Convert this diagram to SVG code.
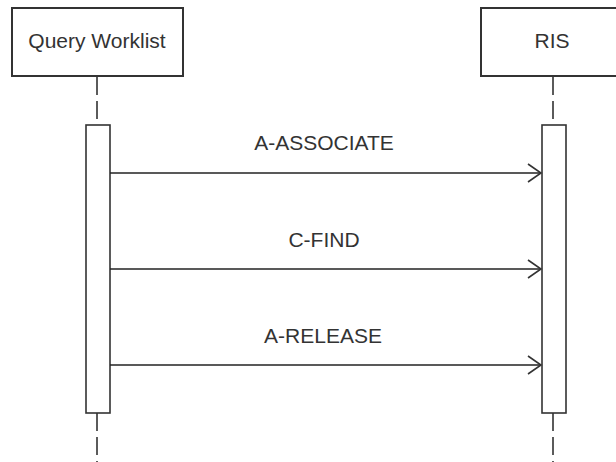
<svg xmlns="http://www.w3.org/2000/svg" width="616" height="462" viewBox="0 0 616 462">
<defs>
<style>
.box{fill:#fff;stroke:#333;stroke-width:2}
.act{fill:#fff;stroke:#333;stroke-width:1.6}
.life{stroke:#333;stroke-width:1.6;stroke-dasharray:18 6;fill:none}
.msg{stroke:#222;stroke-width:1.6;fill:none}
.t{font-family:"Liberation Sans",Arial,sans-serif;font-size:21px;fill:#333;text-anchor:middle}
</style>
<marker id="open" markerUnits="userSpaceOnUse" markerWidth="16" markerHeight="22" refX="14" refY="10" orient="auto" viewBox="0 0 16 20">
<path d="M1,1 L14,10 L1,19" fill="none" stroke="#333" stroke-width="1.6"/>
</marker>
</defs>
<rect width="616" height="462" fill="#fff"/>
<g id="lifelines">
<line class="life" x1="97" y1="77" x2="97" y2="125"/>
<line class="life" x1="97" y1="413" x2="97" y2="462"/>
<line class="life" x1="553" y1="77" x2="553" y2="125"/>
<line class="life" x1="553" y1="413" x2="553" y2="462"/>
</g>
<g id="query-worklist">
<rect class="box" x="12" y="8" width="171" height="68"/>
<text class="t" x="97" y="48">Query Worklist</text>
</g>
<g id="ris">
<rect class="box" x="481" y="8" width="145" height="68"/>
<text class="t" x="552" y="48">RIS</text>
</g>
<g id="act-left">
<rect class="act" x="86" y="125" width="24" height="288"/>
</g>
<g id="act-right">
<rect class="act" x="542" y="125" width="24" height="288"/>
</g>
<g id="connectors">
<line class="msg" x1="110" y1="173" x2="541" y2="173" marker-end="url(#open)"/>
<text class="t" x="324" y="150">A-ASSOCIATE</text>
<line class="msg" x1="110" y1="269" x2="541" y2="269" marker-end="url(#open)"/>
<text class="t" x="324" y="247">C-FIND</text>
<line class="msg" x1="110" y1="365" x2="541" y2="365" marker-end="url(#open)"/>
<text class="t" x="323" y="343">A-RELEASE</text>
</g>
</svg>
